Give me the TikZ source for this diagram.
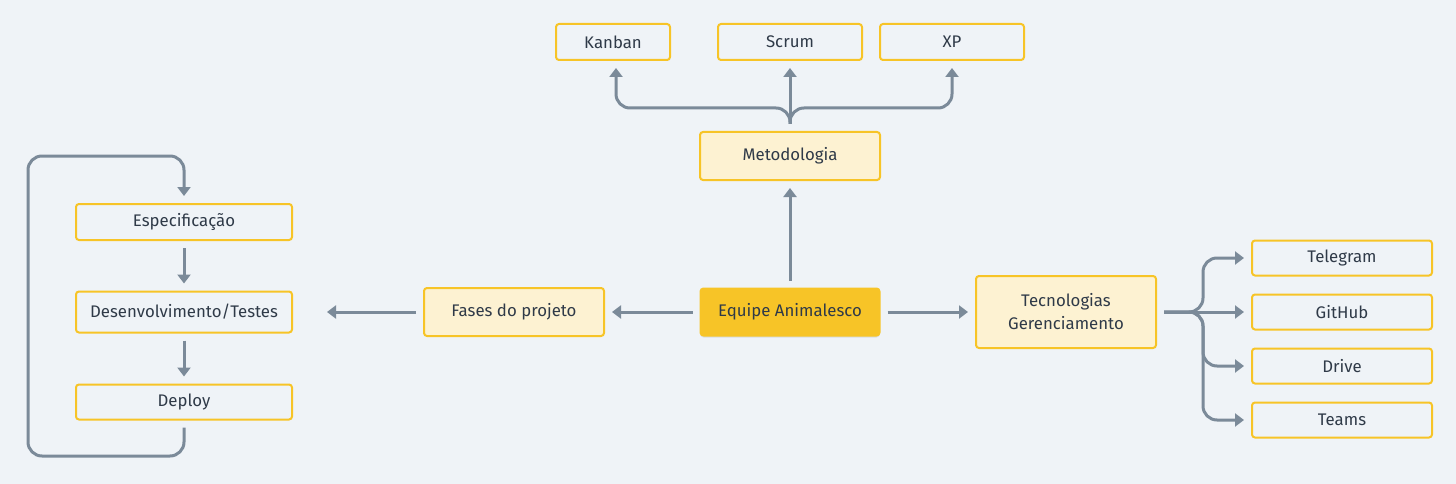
\documentclass[tikz,border=0pt]{standalone}
\usepackage{fontspec}
\setmainfont{Fira Sans}
\usetikzlibrary{arrows.meta,shadows}
\definecolor{bgc}{HTML}{EFF3F7}
\definecolor{lnc}{HTML}{7B8A99}
\definecolor{ylw}{HTML}{F7C427}
\definecolor{lyl}{HTML}{FDF2D2}
\definecolor{txc}{HTML}{2F3A48}
\tikzset{
  box/.style={draw=ylw, line width=2pt, rounded corners=3pt, fill=bgc, text=txc,
    font=\fontsize{16.8}{23}\selectfont, align=center, inner sep=0pt},
  subbox/.style={box, fill=lyl},
  mainbox/.style={box, fill=ylw, draw=ylw, drop shadow={opacity=0.18, shadow xshift=0pt, shadow yshift=-2pt}},
  arr/.style={draw=lnc, line width=3pt, -{Triangle[length=9pt,width=13pt]}, shorten <=7pt, shorten >=7pt},
}
\begin{document}
\begin{tikzpicture}[x=1pt,y=-1pt]
\useasboundingbox (0,0) rectangle (1456,484);
\fill[bgc] (0,0) rectangle (1456,484);
% top
\node[box, minimum width=114pt, minimum height=36pt] (kanban) at (613,42) {Kanban};
\node[box, minimum width=144pt, minimum height=36pt] (scrum) at (790,42) {Scrum};
\node[box, minimum width=144pt, minimum height=36pt] (xp) at (952,42) {XP};
\node[subbox, minimum width=180pt, minimum height=48pt] (met) at (790,156) {Metodologia};
% center
\node[mainbox, minimum width=179pt, minimum height=47pt] (eq) at (790,312) {Equipe Animalesco};
\node[subbox, minimum width=180pt, minimum height=48pt] (fases) at (514,312) {Fases do projeto};
\node[subbox, minimum width=180pt, minimum height=72pt] (tec) at (1066,312) {Tecnologias\\Gerenciamento};
% right
\node[box, minimum width=180pt, minimum height=35pt] (tel) at (1342,258) {Telegram};
\node[box, minimum width=180pt, minimum height=35pt] (git) at (1342,312) {GitHub};
\node[box, minimum width=180pt, minimum height=35pt] (drive) at (1342,366) {Drive};
\node[box, minimum width=180pt, minimum height=35pt] (teams) at (1342,420) {Teams};
% left
\node[box, minimum width=216pt, minimum height=36pt] (esp) at (184,222) {Especificação};
\node[box, minimum width=216pt, minimum height=41pt] (dev) at (184,312) {Desenvolvimento/Testes};
\node[box, minimum width=216pt, minimum height=35pt] (dep) at (184,402) {Deploy};
% coordinates
\coordinate (fl) at (320,312);
\coordinate (mb) at (790,108);
\coordinate (tb) at (1203,312);
\coordinate (la) at (28,456);
\coordinate (lb) at (28,156);
% connectors
\draw[arr] (eq) -- (fases);
\draw[arr] (fases) -- (fl);
\draw[arr] (eq) -- (met);
\draw[arr] (eq) -- (tec);
\draw[arr] (met) -- (scrum);
\draw[arr, rounded corners=14pt] (met.north) -- (mb) -| ([xshift=3pt]kanban.south);
\draw[arr, rounded corners=14pt] (met.north) -- (mb) -| (xp.south);
\draw[arr] (tec) -- (git);
\draw[arr, rounded corners=14pt] (tec.east) -- (tb) |- (tel.west);
\draw[arr, rounded corners=14pt] (tec.east) -- (tb) |- (drive.west);
\draw[arr, rounded corners=14pt] (tec.east) -- (tb) |- (teams.west);
\draw[arr] (esp) -- (dev);
\draw[arr] (dev) -- (dep);
\draw[arr, rounded corners=14pt] (dep.south) |- (la) -- (lb) -| (esp.north);
\end{tikzpicture}
\end{document}
